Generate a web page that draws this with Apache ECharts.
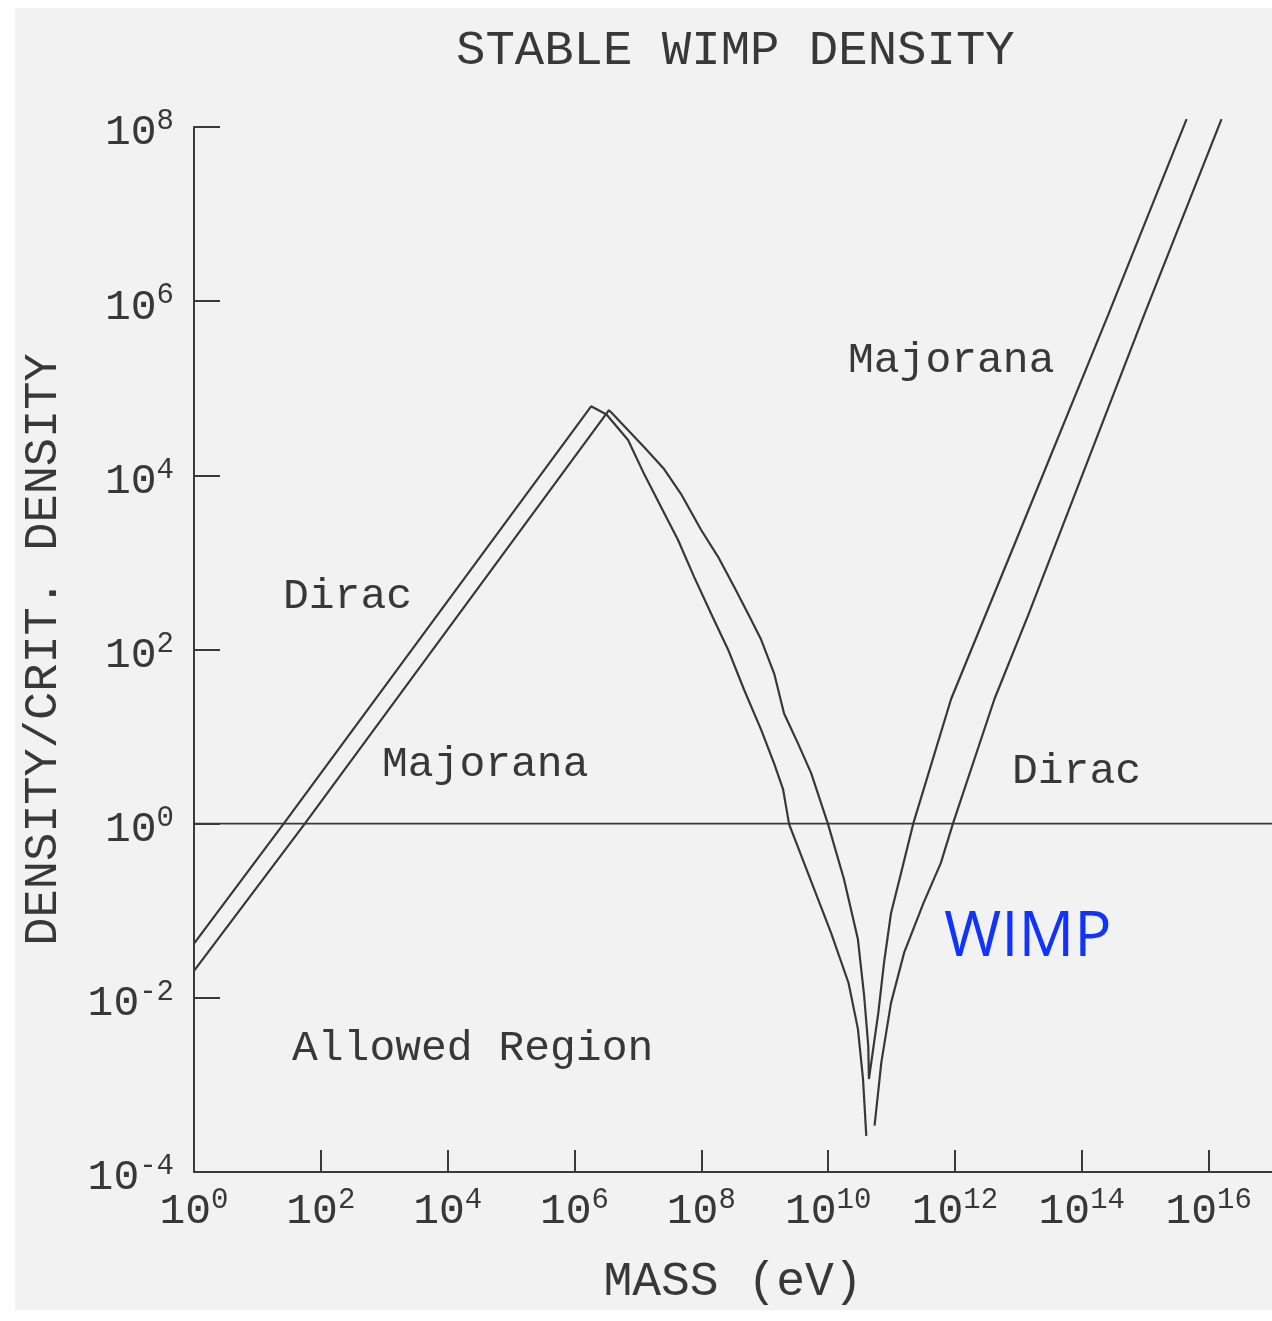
<!DOCTYPE html>
<html>
<head>
<meta charset="utf-8">
<script src="https://cdn.jsdelivr.net/npm/echarts@6/dist/echarts.min.js"></script>
<style>
  html, body { margin: 0; padding: 0; background: #ffffff; }
  #chart { width: 1272px; height: 1321px; }
</style>
</head>
<body>
<div id="chart"></div>
<script>
// Relic density (in units of the critical density) of a stable heavy
// neutrino-like WIMP versus its mass, for Dirac and Majorana cases.

// Dirac curve: mass (eV) and density / critical density.
// A null marks the unresolved bottom of the resonance dip.
const diracMass = [1, 26, 1.83e6, 3.2e6, 7.0e6, 1.25e7, 2.32e7, 4.3e7, 7.7e7,
  1.43e8, 2.65e8, 4.73e8, 8.77e8, 1.41e9, 1.95e9, 2.43e9,
  5.8e9, 1.12e10, 2.1e10, 2.95e10, 3.55e10, 4.0e10, null,
  5.4e10, 6.9e10, 9.8e10, 1.58e11, 3.2e11, 6.0e11, 9.3e11, 4.2e12, 1.42e13,
  9.6e14, 1.6e16];
const diracDensity = [0.042, 1.0, 6.2e4, 5.0e4, 2.54e4, 1.04e4, 4.33e3, 1.81e3, 682,
  257, 99.5, 34.5, 12.0, 4.9, 2.47, 0.98,
  0.19, 0.055, 0.0148, 4.4e-3, 1.17e-3, 2.6e-4, null,
  3.4e-4, 1.8e-3, 8.7e-3, 0.033, 0.123, 0.355, 1.0, 27, 245,
  6.9e5, 1.23e8];

// Majorana curve.
const majoranaMass = [1, 56, 6.9e4, 3.5e6, 3.78e6, 1.25e7, 2.59e7, 4.8e7, 9.9e7,
  1.84e8, 3.29e8, 5.47e8, 8.77e8, 1.41e9, 2.02e9, 3.36e9, 5.4e9, 1.0e10,
  1.78e10, 2.95e10, 3.7e10, 4.3e10, 4.4e10, 6.2e10, 7.6e10, 9.8e10,
  1.41e11, 2.2e11, 8.7e11, 1.1e13, 2.6e14, 4.5e15];
const majoranaDensity = [0.0204, 1.0, 1.15e3, 5.6e4, 5.3e4, 2.11e4, 1.18e4, 6.1e3, 2.37e3,
  1.16e3, 526, 258, 130, 52.9, 18.4, 8.3, 3.8, 0.98,
  0.23, 0.047, 0.0105, 2.8e-3, 1.17e-3, 6.8e-3, 0.025, 0.093,
  0.27, 1.0, 27, 2.45e3, 6.9e5, 1.23e8];

// Critical density reference level.
const criticalMass = [1, 1e17];
const criticalDensity = [1, 1];

// Axis ticks and labels (powers of ten).
const massTickValues = [1e2, 1e4, 1e6, 1e8, 1e10, 1e12, 1e14, 1e16];
const massLabelValues = [1e0, 1e2, 1e4, 1e6, 1e8, 1e10, 1e12, 1e14, 1e16];
const densityTickValues = [1e-2, 1e0, 1e2, 1e4, 1e6, 1e8];
const densityLabelValues = [1e-4, 1e-2, 1e0, 1e2, 1e4, 1e6, 1e8];

const pairs = (xs, ys) => xs.map((x, i) => (x === null ? ['-', '-'] : [x, ys[i]]));

const MONO = '"Liberation Mono", "DejaVu Sans Mono", monospace';
const INK = '#383838';

const powerLabel = v => '{b|10}{e|' + Math.round(Math.log10(v)) + '}';
const powerRich = {
  b: { fontFamily: MONO, fontSize: 43, color: INK, lineHeight: 40, padding: [12, 0, 0, 0] },
  e: { fontFamily: MONO, fontSize: 29, color: INK, lineHeight: 36, verticalAlign: 'top' }
};

const chart = echarts.init(document.getElementById('chart'), null, { renderer: 'canvas' });

const noteText = (text, x, y) => ({
  type: 'text', x: x, y: y, silent: true,
  style: { text: text, fontFamily: MONO, fontSize: 43, fill: INK, verticalAlign: 'middle', align: 'left' }
});

chart.setOption({
  backgroundColor: '#ffffff',
  animation: false,
  title: {
    text: 'STABLE WIMP DENSITY',
    left: 451, top: 22,
    textStyle: { fontFamily: MONO, fontSize: 49, fontWeight: 'normal', color: INK }
  },
  grid: { left: 194, right: 0, top: 127, bottom: 149, containLabel: false, outerBoundsMode: 'none' },
  xAxis: {
    type: 'log', logBase: 10, min: 1, max: 1e17,
    name: 'MASS (eV)', nameLocation: 'middle', nameGap: 86,
    nameTextStyle: { fontFamily: MONO, fontSize: 48, color: INK },
    axisLine: { lineStyle: { color: '#3a3a3a', width: 2 } },
    axisTick: { inside: true, length: 22, customValues: massTickValues, lineStyle: { color: '#3a3a3a', width: 2 } },
    axisLabel: { customValues: massLabelValues, margin: 14, formatter: powerLabel, rich: powerRich },
    minorTick: { show: false },
    splitLine: { show: false }
  },
  yAxis: {
    type: 'log', logBase: 10, min: 1e-4, max: 1e8,
    name: 'DENSITY/CRIT. DENSITY', nameLocation: 'middle', nameGap: 127,
    nameTextStyle: { fontFamily: MONO, fontSize: 47, color: INK },
    axisLine: { lineStyle: { color: '#3a3a3a', width: 2 } },
    axisTick: { inside: true, length: 26, customValues: densityTickValues, lineStyle: { color: '#3a3a3a', width: 2 } },
    axisLabel: { customValues: densityLabelValues, margin: 20, formatter: powerLabel, rich: powerRich },
    minorTick: { show: false },
    splitLine: { show: false }
  },
  graphic: [
    { type: 'rect', z: -10, silent: true, shape: { x: 15, y: 8, width: 1257, height: 1302 }, style: { fill: '#f2f2f2' } },
    noteText('Dirac', 283, 597),
    noteText('Majorana', 382, 765),
    noteText('Majorana', 848, 361),
    noteText('Dirac', 1012, 772),
    noteText('Allowed Region', 292, 1049),
    {
      type: 'text', x: 944, y: 938, silent: true,
      style: { text: 'WIMP', fontFamily: '"Open Sans", "Noto Sans", sans-serif', fontSize: 62, fill: '#1133ff', verticalAlign: 'middle', align: 'left' }
    }
  ],
  series: [
    {
      name: 'Critical density', type: 'line', data: pairs(criticalMass, criticalDensity),
      symbol: 'none', silent: true, lineStyle: { color: '#3a3a3a', width: 1.8 }
    },
    {
      name: 'Dirac', type: 'line', data: pairs(diracMass, diracDensity),
      symbol: 'none', connectNulls: false, clip: false, silent: true,
      lineStyle: { color: INK, width: 2.2 }
    },
    {
      name: 'Majorana', type: 'line', data: pairs(majoranaMass, majoranaDensity),
      symbol: 'none', clip: false, silent: true,
      lineStyle: { color: INK, width: 2.2 }
    }
  ]
});
</script>
</body>
</html>
